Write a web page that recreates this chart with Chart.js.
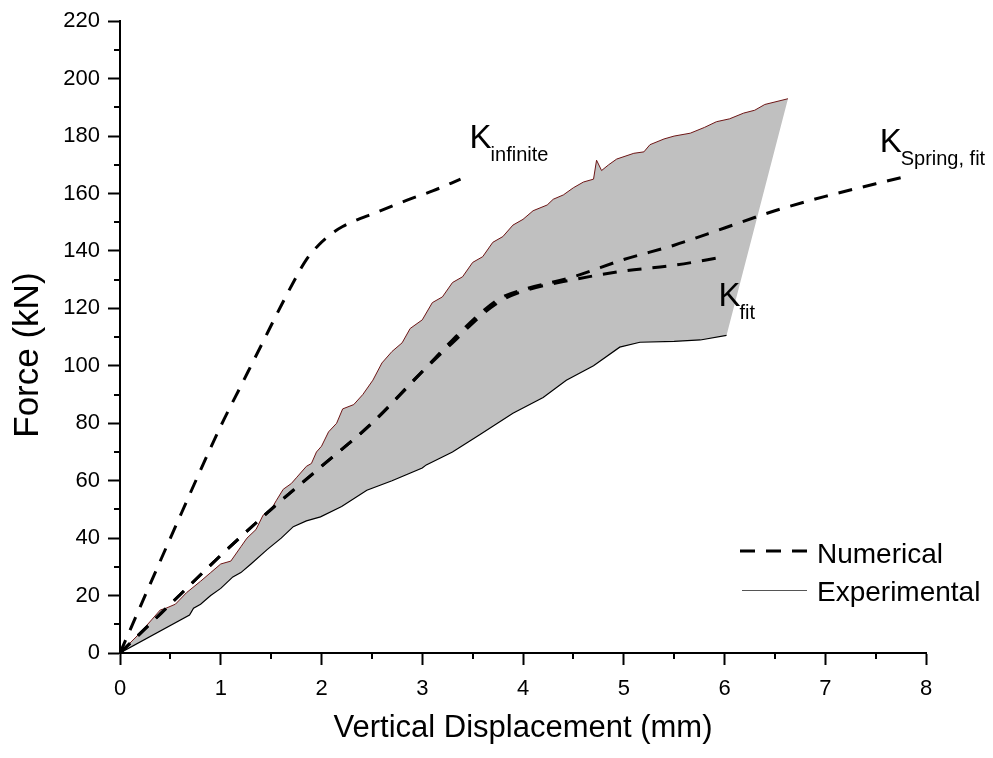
<!DOCTYPE html>
<html>
<head>
<meta charset="utf-8">
<script src="https://cdn.jsdelivr.net/npm/chart.js@4/dist/chart.umd.min.js"></script>
<style>
  html, body { margin: 0; padding: 0; background: #fff; }
  #wrap { width: 993px; height: 758px; }
</style>
</head>
<body>
<div id="wrap"><canvas id="chart" width="993" height="758"></canvas></div>
<script>
const FONT = "'Liberation Sans', Arial, Helvetica, sans-serif";

// Numerical curves (dashed)
const K_INF_X = [0, 0.5, 1.0, 1.2, 1.4, 1.6, 1.75, 1.85, 1.97, 2.1, 2.21, 2.55, 2.85, 3.11, 3.38];
const K_INF_Y = [0, 40, 79, 93, 107, 121, 131, 137, 142, 146, 148.5, 153.5, 157.7, 161, 165];

const K_FIT_X = [0, 0.5, 1.0, 1.5, 2.0, 2.5, 3.0, 3.3, 3.6, 3.8, 4.0, 4.5, 5.0, 5.5, 6.0];
const K_FIT_Y = [0, 17, 34, 50, 65, 80, 98, 108, 118, 123, 126, 130, 133, 135, 138];

const K_SPRING_X = [0, 0.5, 1.0, 1.5, 2.0, 2.5, 3.0, 3.3, 3.6, 3.8, 4.0, 4.5, 5.0, 5.5, 6.0, 6.5, 7.0, 7.75];
const K_SPRING_Y = [0, 17, 34, 50, 65, 80, 98, 109, 119, 124, 126.5, 131, 137, 142, 148, 154, 159, 165.5];

// Experimental band: upper and lower envelopes
const EXP_UP_X = [0, 0.2, 0.4, 0.45, 0.55, 0.66, 0.8, 0.9, 1.0, 1.1, 1.2, 1.26, 1.35, 1.42, 1.5, 1.55, 1.62, 1.7, 1.75, 1.85, 1.9, 1.95, 2.0, 2.07, 2.15, 2.21, 2.32, 2.41, 2.51, 2.6, 2.7, 2.8, 2.88, 3.0, 3.1, 3.2, 3.3, 3.4, 3.5, 3.6, 3.7, 3.8, 3.9, 4.0, 4.1, 4.24, 4.3, 4.4, 4.5, 4.6, 4.7, 4.73, 4.78, 4.85, 4.93, 5.1, 5.2, 5.26, 5.4, 5.5, 5.66, 5.8, 5.92, 6.05, 6.19, 6.3, 6.4, 6.63];
const EXP_UP_Y = [0, 7, 15, 15.5, 17, 21, 25, 28, 31, 32, 37, 40, 43, 48, 50, 53, 57, 59, 61, 65, 66, 70, 72, 77, 80, 85, 86.5, 90, 95, 101, 105, 108, 113, 116, 122, 124, 129, 131, 136, 138, 143, 145, 149, 151, 154, 156, 158, 159.5, 162, 164, 165, 171.6, 168, 170, 172, 174, 174.5, 177, 179, 180, 181, 183, 185, 186, 188, 189, 191, 193];

const EXP_LO_X = [0, 0.69, 0.73, 0.8, 0.9, 1.0, 1.12, 1.2, 1.3, 1.46, 1.6, 1.72, 1.85, 1.99, 2.2, 2.45, 2.7, 3.0, 3.04, 3.3, 3.57, 3.9, 4.2, 4.43, 4.7, 4.96, 5.16, 5.5, 5.76, 6.02];
const EXP_LO_Y = [0, 13.2, 15.6, 17, 20, 22.5, 26.5, 28, 31, 36, 40, 44, 46, 47.4, 51, 56.7, 60, 64.4, 65.5, 70, 76, 83.5, 89, 95, 100, 106.5, 108.2, 108.5, 109, 110.6];

const LEGEND_LABELS = ["Numerical", "Experimental"];
const Y_TITLE = "Force (kN)";

// curve annotations: K with subscript, anchored in data units (x, baseline y)
const K_LABELS = [
  { sub: "infinite", x: 3.47, y: 176 },
  { sub: "Spring, fit", x: 7.54, y: 174.4 },
  { sub: "fit", x: 5.94, y: 121 },
];

function pts(xs, ys) {
  return xs.map((x, i) => ({ x, y: ys[i] }));
}

// closed polygon: upper envelope out, lower envelope back
const bandPolygon = pts(EXP_UP_X, EXP_UP_Y).concat(pts(EXP_LO_X, EXP_LO_Y).reverse());

const DASH = [14, 11];

const minorTicks = {
  id: "minorTicks",
  afterDraw(chart) {
    const { ctx } = chart;
    const xs = chart.scales.x, ys = chart.scales.y;
    ctx.save();
    ctx.strokeStyle = "#000";
    ctx.lineWidth = 2;
    ctx.beginPath();
    for (let v = 0.5; v < 8; v += 1) {
      const px = Math.round(xs.getPixelForValue(v));
      ctx.moveTo(px, xs.top);
      ctx.lineTo(px, xs.top + 6);
    }
    for (let v = 10; v < 220; v += 20) {
      const py = Math.round(ys.getPixelForValue(v));
      ctx.moveTo(ys.right, py);
      ctx.lineTo(ys.right - 6, py);
    }
    ctx.stroke();
    ctx.restore();
  },
};

const annotations = {
  id: "annotations",
  afterDraw(chart) {
    const { ctx, chartArea } = chart;
    const xs = chart.scales.x, ys = chart.scales.y;
    ctx.save();
    ctx.fillStyle = "#000";
    ctx.textBaseline = "alphabetic";
    ctx.textAlign = "left";
    for (const lab of K_LABELS) {
      const px = xs.getPixelForValue(lab.x);
      const py = ys.getPixelForValue(lab.y);
      ctx.font = `33px ${FONT}`;
      ctx.fillText("K", px, py);
      const kw = ctx.measureText("K").width;
      ctx.font = `20px ${FONT}`;
      ctx.fillText(lab.sub, px + kw - 1, py + 13);
    }

    // y-axis title, sits a little below the axis centre as in the original
    ctx.save();
    ctx.translate(28, (chartArea.top + chartArea.bottom) / 2 + 18);
    ctx.rotate(-Math.PI / 2);
    ctx.textAlign = "center";
    ctx.textBaseline = "middle";
    ctx.font = `35px ${FONT}`;
    ctx.fillText(Y_TITLE, 0, 0);
    ctx.restore();

    // legend
    const lx0 = chartArea.right - 186;
    const lx1 = lx0 + 67;
    const rows = [551, 590];
    ctx.lineWidth = 3;
    ctx.strokeStyle = "#000";
    ctx.setLineDash([15, 11]);
    ctx.beginPath();
    ctx.moveTo(lx0, rows[0]);
    ctx.lineTo(lx1, rows[0]);
    ctx.stroke();
    ctx.setLineDash([]);
    ctx.lineWidth = 1;
    ctx.strokeStyle = "#555";
    ctx.beginPath();
    ctx.moveTo(lx0 + 2, rows[1] + 0.5);
    ctx.lineTo(lx1, rows[1] + 0.5);
    ctx.stroke();
    ctx.font = `28px ${FONT}`;
    ctx.fillText(LEGEND_LABELS[0], lx1 + 10, rows[0] + 12);
    ctx.fillText(LEGEND_LABELS[1], lx1 + 10, rows[1] + 11);
    ctx.restore();
  },
};

const numerical = (label, data) => ({
  label,
  data,
  borderColor: "#000",
  borderWidth: 3,
  borderDash: DASH,
  pointRadius: 0,
  fill: false,
  cubicInterpolationMode: "monotone",
  order: 1,
});

new Chart(document.getElementById("chart"), {
  type: "line",
  data: {
    datasets: [
      {
        label: "Experimental band",
        data: bandPolygon,
        fill: "shape",
        backgroundColor: "#c0c0c0",
        borderWidth: 0,
        borderColor: "rgba(0,0,0,0)",
        pointRadius: 0,
        tension: 0,
        order: 3,
      },
      {
        label: "Experimental upper",
        data: pts(EXP_UP_X, EXP_UP_Y),
        borderColor: "#6e1616",
        borderWidth: 1,
        pointRadius: 0,
        fill: false,
        order: 2,
      },
      {
        label: "Experimental lower",
        data: pts(EXP_LO_X, EXP_LO_Y),
        borderColor: "#000",
        borderWidth: 1.2,
        pointRadius: 0,
        fill: false,
        order: 2,
      },
      numerical("K infinite", pts(K_INF_X, K_INF_Y)),
      numerical("K fit", pts(K_FIT_X, K_FIT_Y)),
      numerical("K spring fit", pts(K_SPRING_X, K_SPRING_Y)),
    ],
  },
  options: {
    responsive: false,
    animation: false,
    events: [],
    layout: { padding: { top: 21, right: 67, bottom: 0, left: 0 } },
    plugins: {
      legend: { display: false },
      tooltip: { enabled: false },
    },
    scales: {
      x: {
        type: "linear",
        min: 0,
        max: 8,
        ticks: { stepSize: 1, color: "#000", font: { size: 22, family: FONT }, padding: 11, maxRotation: 0 },
        grid: { drawOnChartArea: false, tickLength: 12, tickWidth: 2, tickColor: "#000" },
        border: { color: "#000", width: 2 },
        title: {
          display: true,
          text: "Vertical Displacement (mm)",
          color: "#000",
          font: { size: 31, family: FONT },
          padding: { top: 0, bottom: 11 },
        },
        afterFit(scale) { scale.height = 105; },
      },
      y: {
        type: "linear",
        min: 0,
        max: 220,
        ticks: { stepSize: 20, color: "#000", font: { size: 22, family: FONT }, padding: 8 },
        grid: { drawOnChartArea: false, tickLength: 12, tickWidth: 2, tickColor: "#000" },
        border: { color: "#000", width: 2 },
        title: { display: false },
        afterFit(scale) { scale.width = 120; },
      },
    },
  },
  plugins: [minorTicks, annotations],
});
</script>
</body>
</html>
